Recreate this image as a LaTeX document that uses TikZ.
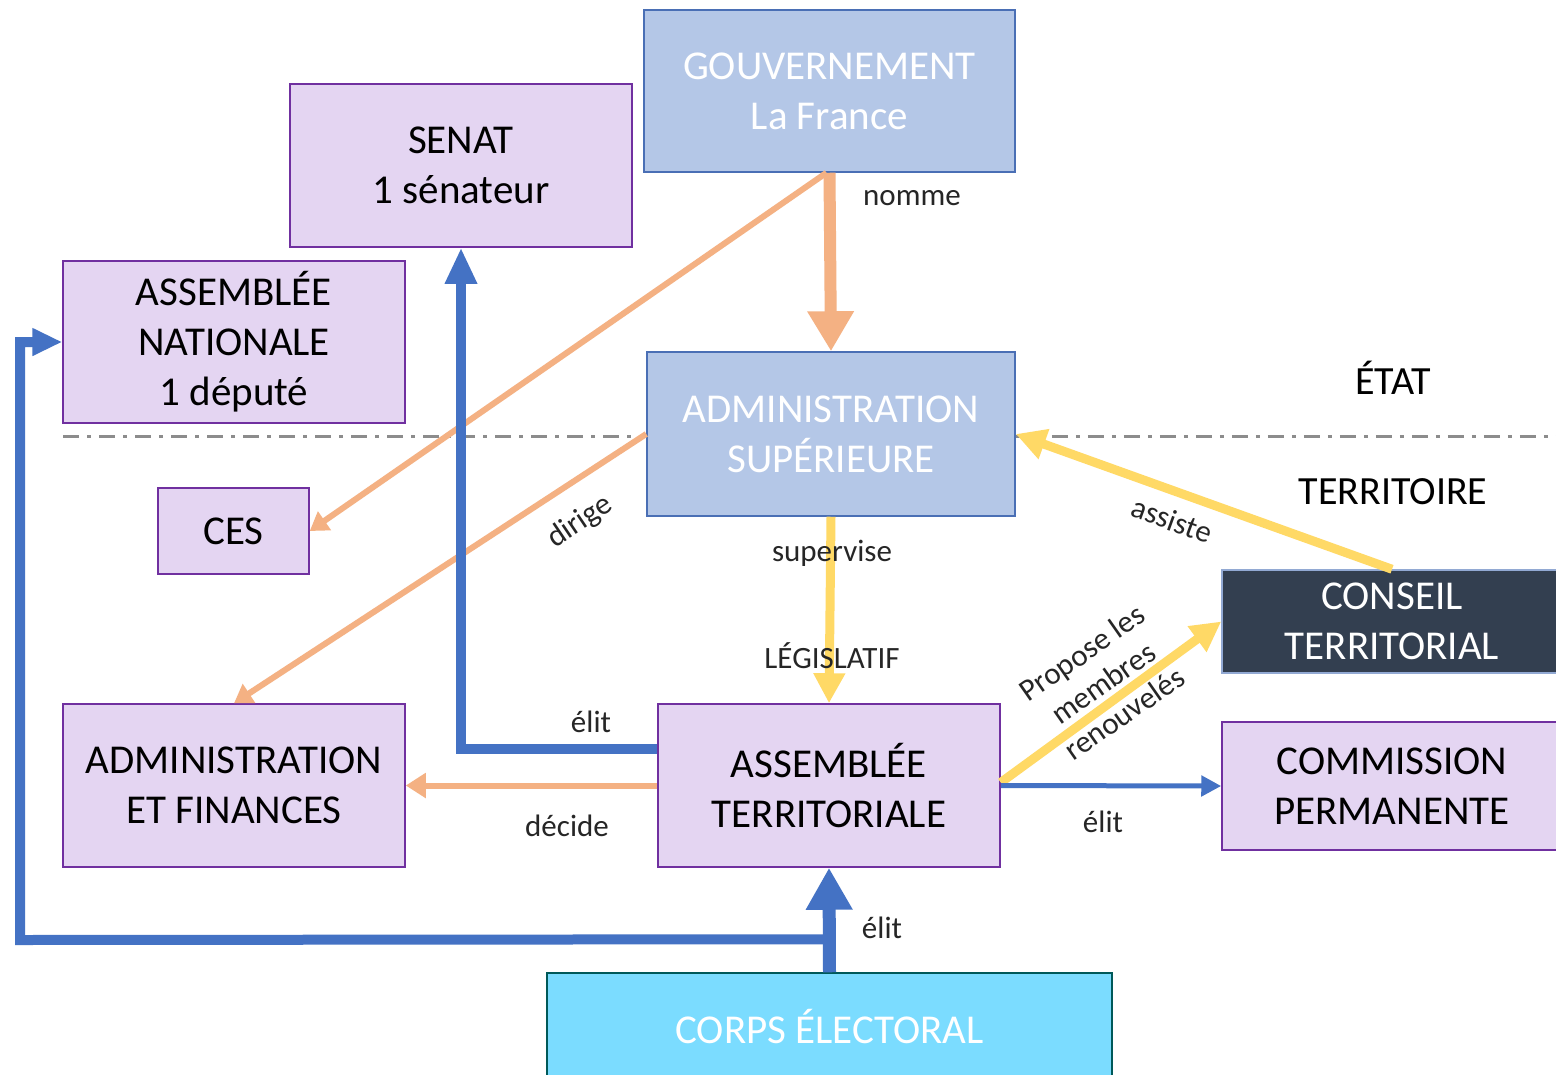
\documentclass[tikz,border=0pt]{standalone}
\usepackage{fontspec}
\setmainfont{Carlito}
\usetikzlibrary{arrows.meta}

\definecolor{lavande}{HTML}{E4D5F2}
\definecolor{violetbord}{HTML}{7030A0}
\definecolor{bleuclair}{HTML}{B4C7E7}
\definecolor{bleubord}{HTML}{4A6FB5}
\definecolor{ardoise}{HTML}{333F50}
\definecolor{ciel}{HTML}{7BDCFF}
\definecolor{saumon}{HTML}{F4B183}
\definecolor{jaune}{HTML}{FFD966}
\definecolor{bleu}{HTML}{4472C4}
\definecolor{gristiret}{HTML}{8C8C8C}

\tikzset{
  boite/.style={draw=violetbord, line width=1.5pt, fill=lavande, align=center,
    inner sep=0pt, font=\fontsize{41}{50}\selectfont},
  etat/.style={draw=bleubord, line width=1.5pt, fill=bleuclair, text=white,
    align=center, inner sep=0pt, font=\fontsize{41}{50}\selectfont},
  lien/.style={text=black!85, align=center, font=\fontsize{31}{37}\selectfont},
  zone/.style={text=black, font=\fontsize{40}{48}\selectfont},
}

\begin{document}
\begin{tikzpicture}[x=1pt,y=-1pt]
\clip (0,0) rectangle (1556,1074);
\fill[white] (0,0) rectangle (1556,1074);

\node[etat, minimum width=371pt, minimum height=162pt] (gouv) at (829.5,91) {GOUVERNEMENT\\La France};
\node[boite, minimum width=342pt, minimum height=163pt] (senat) at (461,165.5) {SENAT\\1 sénateur};
\node[boite, minimum width=342pt, minimum height=162pt] (anat) at (234,342) {ASSEMBLÉE\\NATIONALE\\1 député};
\node[etat, minimum width=368pt, minimum height=164pt] (adminsup) at (831,434) {ADMINISTRATION\\SUPÉRIEURE};
\node[boite, minimum width=151pt, minimum height=86pt] (ces) at (233.5,531) {CES};
\node[boite, minimum width=342pt, minimum height=163pt] (adminfin) at (234,785.5) {ADMINISTRATION\\ET FINANCES};
\node[boite, minimum width=342pt, minimum height=163pt] (at) at (829,785.5) {ASSEMBLÉE\\TERRITORIALE};
\node[draw=bleubord!60, line width=1.5pt, fill=ardoise, text=white, align=center, inner sep=0pt,
  font=\fontsize{41}{50}\selectfont, minimum width=340pt, minimum height=103pt] (conseil) at (1392,621.5) {CONSEIL\\TERRITORIAL};
\node[boite, minimum width=340pt, minimum height=128pt] (commission) at (1392,786) {COMMISSION\\PERMANENTE};
\node[draw=teal!70!black, line width=1.5pt, fill=ciel, text=white, inner sep=0pt,
  font=\fontsize{41}{50}\selectfont, minimum width=565pt, minimum height=107pt] (corps) at (829.5,1026.5) {CORPS ÉLECTORAL};

% points auxiliaires
\coordinate (tiretg) at (63,436);
\coordinate (tiretd) at (1556,436);
\coordinate (retour) at (20,940);

% limite etat / territoire
\draw[gristiret, line width=3pt, dash pattern=on 16pt off 8pt on 4pt off 8pt] (tiretg) -- (tiretg -| adminsup.west);
\draw[gristiret, line width=3pt, dash pattern=on 16pt off 8pt on 4pt off 8pt] (tiretg -| adminsup.east) -- (tiretd);

% fleches de l'etat
\draw[saumon, line width=12pt, -{Triangle[width=44pt,length=40pt]}] (gouv.south) -- (adminsup.north);
\draw[saumon, line width=6pt, -{Triangle[width=22pt,length=18pt]}] ([xshift=-3pt]gouv.south) -- (ces.east);
\draw[saumon, line width=6pt, -{Triangle[width=22pt,length=18pt]}] (adminsup.west) -- (adminfin.north);
\draw[jaune, line width=9pt, -{Triangle[width=30pt,length=30pt]}] (adminsup.south) -- (at.north);
\draw[jaune, line width=9pt, -{Triangle[width=30pt,length=30pt]}] (conseil.north) -- (adminsup.east);

% fleches du territoire
\draw[jaune, line width=9pt, -{Triangle[width=30pt,length=30pt]}] ([yshift=3pt]at.east) -- (conseil.west);
\draw[bleu, line width=5pt, -{Triangle[width=20pt,length=20pt]}] (at.east) -- (commission.west);
\draw[saumon, line width=6pt, -{Triangle[width=24pt,length=20pt]}] (at.west) -- (adminfin.east);
\draw[bleu, line width=10pt, -{Triangle[width=30pt,length=36pt]}] ([yshift=37pt]at.west) -| (senat.south);
\draw[bleu, line width=10pt, -{Triangle[width=26pt,length=30pt]}] ([yshift=33pt]corps.north) -- (retour) |- (anat.west);
\draw[bleu, line width=13pt, -{Triangle[width=44pt,length=42pt]}] (corps.north) -- (at.south);

\node[zone] (etatlbl) at (1393,378) {ÉTAT};
\node[zone] (terrlbl) at (1393,492) {TERRITOIRE};

\node[lien] (nomme) at (912,198) {nomme};
\node[lien, rotate=34] (dirige) at (580,522) {dirige};
\node[lien] (supervise) at (832,553) {supervise};
\node[lien] (legislatif) at (832,656) {LÉGISLATIF};
\node[lien, rotate=-20] (assiste) at (1172,520) {assiste};
\node[lien, rotate=35] (propose) at (1103,683) {Propose les\\membres\\renouvelés};
\node[lien] (elitsenat) at (591,722) {élit};
\node[lien] (decide) at (567,826) {décide};
\node[lien] (elitcom) at (1103,822) {élit};
\node[lien] (elitcorps) at (882,928) {élit};
\end{tikzpicture}
\end{document}
